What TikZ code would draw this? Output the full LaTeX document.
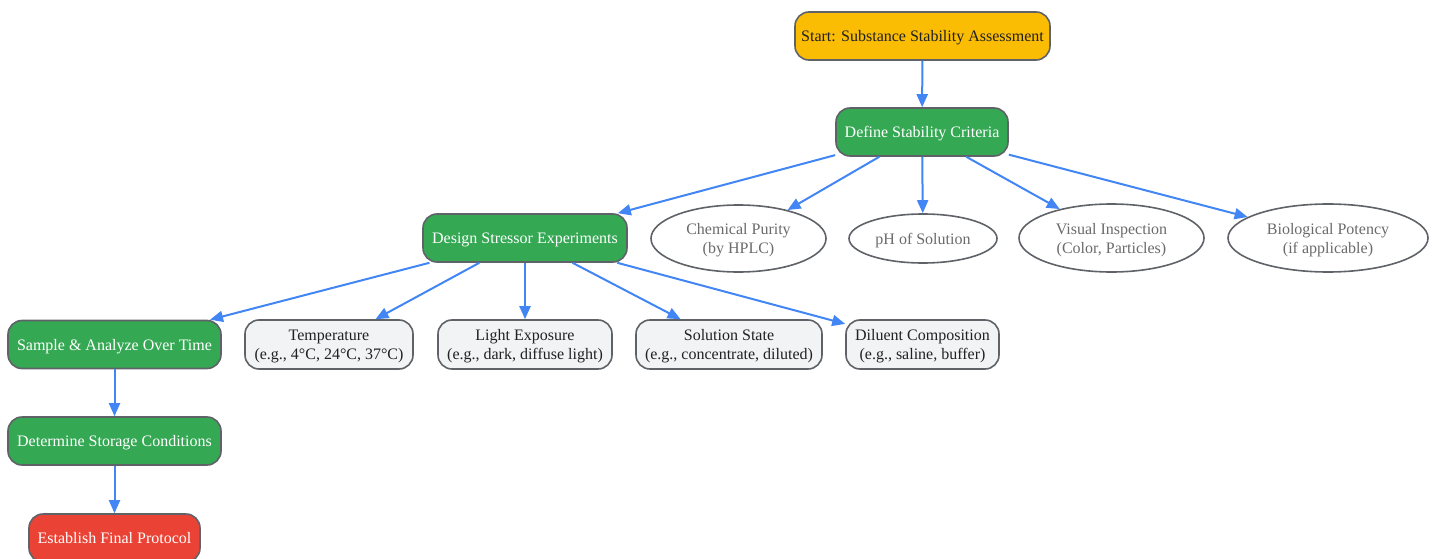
\documentclass[tikz,border=0pt]{standalone}
\usepackage{fontspec}
\setmainfont{Liberation Serif}
\usetikzlibrary{shapes.geometric,arrows.meta}
\definecolor{cyellow}{HTML}{FBBC04}
\definecolor{cgreen}{HTML}{34A853}
\definecolor{cred}{HTML}{EA4335}
\definecolor{cgray}{HTML}{F1F3F4}
\definecolor{cborder}{HTML}{5F6368}
\definecolor{cblue}{HTML}{4285F4}
\definecolor{ctext}{HTML}{202124}
\definecolor{cetext}{HTML}{6B6B6B}
\begin{document}
\begin{tikzpicture}[x=1pt,y=-1pt,
  every node/.style={font=\fontsize{16}{19}\selectfont, align=center, inner sep=0pt, text depth=-0.5pt},
  box/.style={draw=cborder, line width=1.6pt, rounded corners=14pt, minimum height=48pt},
  startbox/.style={box, fill=cyellow, text=ctext},
  greenbox/.style={box, fill=cgreen, text=white},
  redbox/.style={box, fill=cred, text=white},
  graybox/.style={box, fill=cgray, text=ctext, minimum height=49pt},
  oval/.style={ellipse, draw=cborder, line width=1.6pt, fill=white, text=cetext},
  conn/.style={draw=cblue, line width=2pt, -{Triangle[length=13pt,width=11pt]}}
]
\useasboundingbox (0,0) rectangle (1437,559);
\node[startbox, minimum width=255pt] (start) at (922.5,36) {Start: Substance Stability Assessment};
\node[greenbox, minimum width=172pt] (define) at (922,132) {Define Stability Criteria};
\node[greenbox, minimum width=204pt] (design) at (525,238) {Design Stressor Experiments};
\node[oval, minimum width=175pt, minimum height=67pt] (chem) at (738.5,238.5) {Chemical Purity\\(by HPLC)};
\node[oval, minimum width=148pt, minimum height=49pt] (ph) at (923,238.5) {pH of Solution};
\node[oval, minimum width=185pt, minimum height=68pt] (visual) at (1111.5,238) {Visual Inspection\\(Color, Particles)};
\node[oval, minimum width=200pt, minimum height=68pt] (bio) at (1328,238) {Biological Potency\\(if applicable)};
\node[greenbox, minimum width=213pt] (sample) at (114.5,344.5) {Sample \& Analyze Over Time};
\node[graybox, minimum width=168pt] (temp) at (329,344.5) {Temperature\\(e.g., 4°C, 24°C, 37°C)};
\node[graybox, minimum width=174pt] (light) at (525,344.5) {Light Exposure\\(e.g., dark, diffuse light)};
\node[graybox, minimum width=186pt] (sol) at (729,344.5) {Solution State\\(e.g., concentrate, diluted)};
\node[graybox, minimum width=153pt] (dil) at (922.5,344.5) {Diluent Composition\\(e.g., saline, buffer)};
\node[greenbox, minimum width=213pt] (determine) at (114.5,441) {Determine Storage Conditions};
\node[redbox, minimum width=171pt] (establish) at (114.5,538) {Establish Final Protocol};

\draw[conn] (start) -- (define);
\draw[conn] (define) -- (design);
\draw[conn] (define) -- (chem);
\draw[conn] (define) -- (ph);
\draw[conn] (define) -- (visual);
\draw[conn] (define) -- (bio);
\draw[conn] (design) -- (sample);
\draw[conn] (design) -- (temp);
\draw[conn] (design) -- (light);
\draw[conn] (design) -- (sol);
\draw[conn] (design) -- (dil);
\draw[conn] (sample) -- (determine);
\draw[conn] (determine) -- (establish);
\end{tikzpicture}
\end{document}
